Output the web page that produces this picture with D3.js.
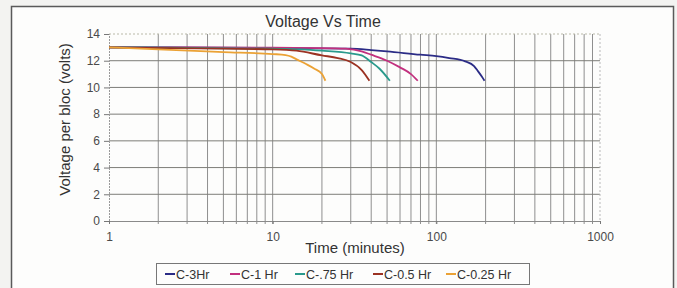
<!DOCTYPE html>
<html>
<head>
<meta charset="utf-8">
<script src="https://cdn.jsdelivr.net/npm/d3@7"></script>
<style>
  body { margin: 0; background: #f3f3f1; }
  svg { display: block; font-family: "Liberation Sans", Arial, sans-serif; }
</style>
</head>
<body>
<div id="chart"></div>
<script>
// series data: time (minutes) and voltage per bloc (volts)
const seriesNames = ["C-3Hr", "C-1 Hr", "C-.75 Hr", "C-0.5 Hr", "C-0.25 Hr"];
const seriesColors = ["#2b2c86", "#c2307e", "#2a9a8c", "#9b3222", "#eba235"];

const t3hr = [1, 10, 30, 40, 50, 80, 100, 120, 150, 170, 180, 190, 197];
const v3hr = [13.0, 12.95, 12.9, 12.8, 12.7, 12.45, 12.35, 12.2, 11.95, 11.6, 11.2, 10.8, 10.5];

const t1hr = [1, 10, 20, 28, 35, 40, 50, 60, 70, 77];
const v1hr = [13.0, 12.97, 12.95, 12.9, 12.7, 12.45, 12.0, 11.5, 11.0, 10.5];

const t075hr = [1, 10, 15, 20, 30, 35, 40, 45, 52];
const v075hr = [13.0, 12.9, 12.85, 12.75, 12.55, 12.4, 11.9, 11.4, 10.5];

const t05hr = [1, 5, 10, 14, 20, 25, 30, 35, 39];
const v05hr = [13.0, 12.9, 12.85, 12.75, 12.4, 12.2, 11.9, 11.3, 10.5];

const t025hr = [1, 2, 5, 10, 12, 13, 14, 16, 18, 20, 21];
const v025hr = [13.0, 12.85, 12.65, 12.5, 12.42, 12.3, 12.1, 11.75, 11.4, 11.0, 10.5];

const seriesT = [t3hr, t1hr, t075hr, t05hr, t025hr];
const seriesV = [v3hr, v1hr, v075hr, v05hr, v025hr];

const yTicks = [0, 2, 4, 6, 8, 10, 12, 14];
const xTicks = [1, 10, 100, 1000];

const W = 677, H = 288;
const margin = { top: 34, right: 77, bottom: 67, left: 109 };
const width = W - margin.left - margin.right;
const height = H - margin.top - margin.bottom;

const root = d3.select("#chart").append("svg")
    .attr("width", W)
    .attr("height", H);

// outer frame
root.append("rect")
    .attr("x", 11.5).attr("y", 6.5)
    .attr("width", 662).attr("height", 290)
    .attr("fill", "#fdfdfc")
    .attr("stroke", "#5a5a5a")
    .attr("stroke-width", 1.5);

const svg = root.append("g")
    .attr("transform", `translate(${margin.left},${margin.top})`);

const x = d3.scaleLog().domain([1, 1000]).range([0, width]);
const y = d3.scaleLinear().domain([0, 14]).range([height, 0]);

// vertical grid lines at every minor log tick
const minor = [];
for (let d = 1; d < 1000; d *= 10) {
    for (let k = 2; k <= 10; k++) minor.push(d * k);
}
svg.selectAll(".vgrid")
    .data(minor.filter(v => v < 1000))
    .join("line")
    .attr("class", "vgrid")
    .attr("x1", d => x(d)).attr("x2", d => x(d))
    .attr("y1", 0).attr("y2", height + 3)
    .attr("stroke", "#8f8f8f")
    .attr("stroke-width", 1);

// horizontal grid lines
svg.selectAll(".hgrid")
    .data(yTicks.filter(v => v > 0 && v < 14))
    .join("line")
    .attr("class", "hgrid")
    .attr("x1", 0).attr("x2", width)
    .attr("y1", d => y(d)).attr("y2", d => y(d))
    .attr("stroke", "#7d7d78")
    .attr("stroke-width", 1);

// dashed plot border (top, right)
svg.append("line")
    .attr("x1", 0).attr("x2", width).attr("y1", y(14)).attr("y2", y(14))
    .attr("stroke", "#b9b9a8").attr("stroke-dasharray", "2,2");
svg.append("line")
    .attr("x1", width).attr("x2", width).attr("y1", 0).attr("y2", height)
    .attr("stroke", "#b9b9b9").attr("stroke-dasharray", "2,2");

// Y axis
const yAxis = svg.append("g")
    .call(d3.axisLeft(y).tickValues(yTicks).tickSize(5).tickPadding(4));
yAxis.select(".domain").attr("stroke", "#9a9a9a").attr("stroke-dasharray", "2,1");
yAxis.selectAll(".tick line").attr("stroke", "#777");
yAxis.selectAll("text").attr("font-size", 12).attr("fill", "#4a4a4a")
    .attr("font-family", "Liberation Sans, Arial, sans-serif");

// X axis
const xAxis = svg.append("g")
    .attr("transform", `translate(0,${height})`)
    .call(d3.axisBottom(x).tickValues(xTicks).tickFormat(d3.format("d")).tickSize(3).tickPadding(8));
xAxis.select(".domain").attr("stroke", "#8a8a8a");
xAxis.selectAll(".tick line").attr("stroke", "#777");
xAxis.selectAll("text").attr("font-size", 12).attr("fill", "#4a4a4a")
    .attr("font-family", "Liberation Sans, Arial, sans-serif");

// series lines
const line = d3.line()
    .x(d => x(d[0]))
    .y(d => y(d[1]))
    .curve(d3.curveMonotoneX);

seriesNames.forEach((name, i) => {
    const data = seriesT[i].map((t, j) => [t, seriesV[i][j]]);
    svg.append("path")
        .datum(data)
        .attr("fill", "none")
        .attr("stroke", seriesColors[i])
        .attr("stroke-width", 1.8)
        .attr("d", line);
});

// title and axis labels
root.append("text")
    .attr("x", 323).attr("y", 27)
    .attr("text-anchor", "middle")
    .attr("font-size", 16)
    .attr("fill", "#333")
    .text("Voltage Vs Time");

root.append("text")
    .attr("transform", `translate(70,${margin.top + height / 2 - 8}) rotate(-90)`)
    .attr("text-anchor", "middle")
    .attr("font-size", 15)
    .attr("fill", "#333")
    .text("Voltage per bloc (volts)");

root.append("text")
    .attr("x", 355).attr("y", 253)
    .attr("text-anchor", "middle")
    .attr("font-size", 15)
    .attr("fill", "#333")
    .text("Time (minutes)");

// legend
const legendX = [165, 230, 295, 373, 446];
root.append("rect")
    .attr("x", 156.5).attr("y", 263.5)
    .attr("width", 373).attr("height", 21)
    .attr("fill", "#fdfdfc")
    .attr("stroke", "#777");

seriesNames.forEach((name, i) => {
    root.append("line")
        .attr("x1", legendX[i]).attr("x2", legendX[i] + 10)
        .attr("y1", 274).attr("y2", 274)
        .attr("stroke", seriesColors[i])
        .attr("stroke-width", 2);
    root.append("text")
        .attr("x", legendX[i] + 11).attr("y", 278.5)
        .attr("font-size", 12.5)
        .attr("fill", "#333")
        .text(name);
});
</script>
</body>
</html>
